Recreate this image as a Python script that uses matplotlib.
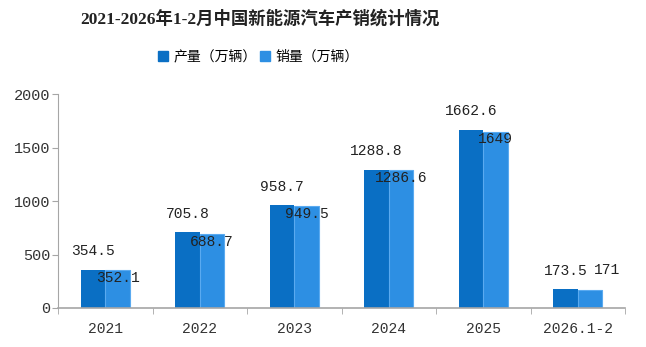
import matplotlib
matplotlib.use("Agg")
import matplotlib.pyplot as plt
import numpy as np
from matplotlib.patches import Patch

plt.rcParams['font.family'] = ['Noto Sans CJK SC', 'DejaVu Sans']

# data
categories = ['2021', '2022', '2023', '2024', '2025', '2026.1-2']
production = [354.5, 705.8, 958.7, 1288.8, 1662.6, 173.5]
sales = [352.1, 688.7, 949.5, 1286.6, 1649, 171]
prod_labels = ['354.5', '705.8', '958.7', '1288.8', '1662.6', '173.5']
sales_labels = ['352.1', '688.7', '949.5', '1286.6', '1649', '171']

c_prod = '#0a6fc4'
c_sales = '#2d8fe3'
grey = '#a6a6a6'
mono = ['Liberation Mono', 'DejaVu Sans Mono']

fig = plt.figure(figsize=(6.46, 3.47), dpi=100)
ax = fig.add_axes([0.0898, 0.1124, 0.8777, 0.6166])

x = np.arange(len(categories))
w = 0.26
ax.bar(x - w / 2, production, w, color=c_prod, linewidth=0)
ax.bar(x + w / 2, sales, w, color=c_sales, edgecolor='#5aaaf0', linewidth=0.8)

num_font = dict(fontsize=10.5, color='#222222', family=mono)
for i in range(len(categories)):
    ax.annotate(prod_labels[i], (x[i] - w / 2, production[i]), xytext=(0, 13.5),
                textcoords='offset points', ha='center', va='center', **num_font)
    if sales[i] < 300:
        # small bar: label sits beside the production label
        ax.annotate(sales_labels[i], (x[i] + w / 2, sales[i]), xytext=(12, 14.5),
                    textcoords='offset points', ha='center', va='center', **num_font)
    else:
        ax.annotate(sales_labels[i], (x[i] + w / 2, sales[i]), xytext=(0, -5.5),
                    textcoords='offset points', ha='center', va='center', **num_font)

ax.set_xlim(-0.5, len(categories) - 0.5)
ax.set_ylim(0, 2000)
ax.set_yticks([0, 500, 1000, 1500, 2000])
ax.set_xticks(x)
ax.set_xticklabels(categories, family=mono, fontsize=10.5, color='#333333')
ax.set_xticks(np.arange(len(categories) + 1) - 0.5, minor=True)
ax.tick_params(axis='x', which='major', length=0, pad=10)
ax.tick_params(axis='x', which='minor', length=4, color=grey, direction='out')
ax.tick_params(axis='y', length=4.5, color=grey, labelsize=11, labelcolor='#333333', pad=1)
for lab in ax.get_yticklabels():
    lab.set_family(mono)

for s in ['top', 'right']:
    ax.spines[s].set_visible(False)
ax.spines['left'].set_color(grey)
ax.spines['bottom'].set_color(grey)
ax.spines['bottom'].set_linewidth(1.2)

fig.text(0.402, 0.947, '2021-2026年1-2月中国新能源汽车产销统计情况', ha='center', va='center',
         fontsize=12.5, fontweight='bold', color='#222222',
         family=['Liberation Serif', 'Noto Sans CJK SC'])

handles = [Patch(color=c_prod), Patch(color=c_sales)]
fig.legend(handles, ['产量（万辆）', '销量（万辆）'], loc='center', bbox_to_anchor=(0.4, 0.836),
           ncol=2, frameon=False, fontsize=10, handlelength=0.7, handleheight=0.7,
           handletextpad=0.4, columnspacing=0.3)

plt.savefig('out.png', dpi=100)
